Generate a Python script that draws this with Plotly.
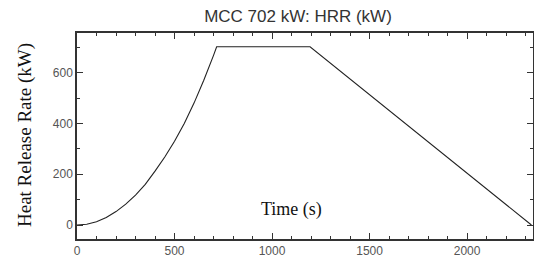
import plotly.graph_objects as go

# Data
time_s = [0, 50, 100, 150, 200, 250, 300, 350, 400, 450, 500, 550, 600, 650, 700, 716, 1195, 2330]
hrr_kw = [0, 3, 13, 30, 53, 82, 118, 160, 212, 268, 330, 400, 480, 570, 668, 702, 702, 0]

x_ticks = [0, 500, 1000, 1500, 2000]
y_ticks = [0, 200, 400, 600]

title_text = "MCC 702 kW: HRR (kW)"
x_label = "Time (s)"
y_label = "Heat Release Rate (kW)"

fig = go.Figure()
fig.add_trace(go.Scatter(x=time_s, y=hrr_kw, mode="lines",
                         line=dict(color="#222222", width=1.1), showlegend=False))

axis_common = dict(showline=True, linecolor="#333333", linewidth=1.5, mirror="ticks",
                   ticks="inside", ticklen=6, tickwidth=1.3, tickcolor="#333333",
                   showgrid=False, zeroline=False, automargin=False,
                   tickfont=dict(family="Arial, Liberation Sans, sans-serif", size=12, color="#555555"))

fig.update_xaxes(range=[0, 2338], tickvals=x_ticks, ticklabelstandoff=0,
                 minor=dict(dtick=100, tick0=0, ticks="inside", ticklen=3, tickcolor="#333333", tickwidth=1),
                 **axis_common)
fig.update_yaxes(range=[-55, 756], tickvals=y_ticks,
                 minor=dict(dtick=100, tick0=0, ticks="inside", ticklen=3, tickcolor="#333333", tickwidth=1),
                 **axis_common)

fig.add_annotation(text=x_label, x=(291 - 77) / 456, y=(239 - 209) / 206, xref="x domain", yref="y domain",
                   xanchor="center", yanchor="middle", showarrow=False,
                   font=dict(family="Liberation Serif, Times New Roman, serif", size=18, color="#111111"))
fig.add_annotation(text=y_label, x=-(77 - 25) / 456, y=(239 - 135) / 206, xref="x domain", yref="y domain",
                   xanchor="center", yanchor="middle", showarrow=False, textangle=-90,
                   font=dict(family="Liberation Serif, Times New Roman, serif", size=19, color="#111111"))

fig.update_layout(
    width=534, height=257,
    margin=dict(l=77, r=1, t=33, b=18, autoexpand=False),
    paper_bgcolor="white", plot_bgcolor="white",
    title=dict(text=title_text, x=298 / 534, xanchor="center", y=1 - 16 / 257, yanchor="middle",
               font=dict(family="Arial, Liberation Sans, sans-serif", size=17, color="#333333")),
)

fig.write_html("out.html", config={"displayModeBar": False},
               post_script="document.body.style.margin='0';document.body.style.overflow='hidden';")
